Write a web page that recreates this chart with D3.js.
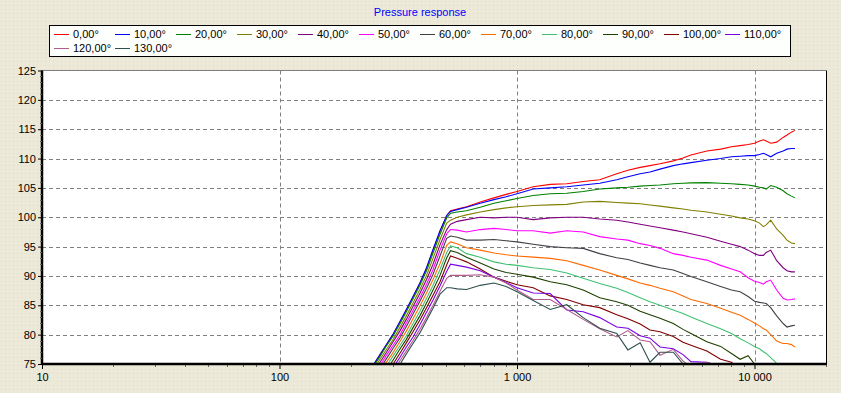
<!DOCTYPE html>
<html>
<head>
<meta charset="utf-8">
<script src="https://cdn.jsdelivr.net/npm/d3@7"></script>
<style>
  body { margin: 0; background: #ece9d8; }
  svg { display: block; }
  text { font-family: "Liberation Sans", Arial, sans-serif; font-size: 11px; }
</style>
</head>
<body>
<svg id="chart" width="841" height="393"></svg>
<script>
// frequencies (Hz) shared by every curve
const freqs = [240,250,265,280,300,321,342,365,390,416,443,474,506,525,560,613,700,800,900,1000,
  1170,1380,1620,1900,2230,2630,2930,3300,3630,4000,4550,5000,5400,6300,7200,8000,8700,9400,10000,10500,
  10900,11200,11700,12400,13200,13700,14300,14800];

// SPL (dB) per angle
const deg0 = [73.9,75.0,76.6,78.1,80.0,82.1,84.2,86.4,88.7,91.3,94.4,97.6,100.3,101.1,101.4,101.8,102.6,103.3,103.9,104.4,
  105.2,105.6,105.7,106.1,106.4,107.4,108.0,108.5,108.8,109.1,109.6,110.1,110.6,111.3,111.6,112.0,112.2,112.4,112.6,113.0,
  113.2,113.0,112.6,112.8,113.6,114.0,114.5,114.8];
const deg10 = [73.9,75.0,76.6,78.1,80.0,82.2,84.3,86.5,88.8,91.4,94.5,97.7,100.3,101.0,101.3,101.7,102.4,103.0,103.5,104.0,
  104.8,105.0,105.2,105.5,105.8,106.4,106.9,107.4,107.7,108.2,108.8,109.1,109.3,109.7,110.0,110.3,110.4,110.5,110.5,110.7,
  110.9,110.7,110.3,110.9,111.3,111.6,111.7,111.7];
const deg20 = [73.6,74.7,76.3,77.9,79.7,81.8,83.9,86.1,88.4,90.9,93.9,97.1,99.9,100.7,100.9,101.1,101.7,102.4,102.8,103.2,
  103.7,104.0,104.1,104.4,104.8,105.0,105.1,105.3,105.4,105.5,105.7,105.8,105.85,105.9,105.8,105.7,105.6,105.5,105.3,105.1,
  105.0,104.8,105.4,105.1,104.5,104.0,103.6,103.3];
const deg30 = [73.1,74.2,75.8,77.3,79.1,81.2,83.2,85.4,87.7,90.1,93.0,96.2,99.0,99.5,100.0,100.4,100.9,101.3,101.6,101.8,
  102.0,102.1,102.2,102.6,102.7,102.5,102.4,102.3,102.1,101.9,101.6,101.4,101.2,100.9,100.5,100.2,99.9,99.7,99.4,99.0,
  98.4,98.7,99.5,98.0,96.9,96.1,95.6,95.5];
const deg40 = [72.6,73.6,75.3,76.8,78.7,80.6,82.6,84.8,87.0,89.4,92.0,95.3,97.9,98.8,99.3,99.6,100.0,99.9,100.0,100.0,
  99.6,99.9,100.0,100.0,99.7,99.5,99.2,98.8,98.5,98.2,97.8,97.5,97.2,96.6,95.9,95.4,95.0,94.4,93.8,93.5,
  93.5,94.0,94.4,92.6,91.4,90.9,90.7,90.7];
const deg50 = [72.0,73.0,74.7,76.3,78.1,79.9,82.0,84.1,86.3,88.6,91.1,94.4,97.2,97.9,97.8,97.5,97.9,98.1,97.9,97.7,
  97.7,97.3,97.7,97.5,96.7,96.3,96.1,95.5,95.2,94.7,93.8,93.5,93.2,92.7,91.8,91.2,90.7,89.7,89.1,88.9,
  88.6,89.0,89.3,87.6,86.2,85.9,86.0,86.1];
const deg60 = [71.5,72.5,74.2,75.7,77.6,79.4,81.4,83.5,85.7,87.9,90.3,93.4,96.4,96.8,96.6,96.1,96.1,96.2,96.0,95.8,
  95.4,95.0,94.8,94.7,93.8,93.1,92.8,92.2,91.8,91.4,91.0,90.4,89.9,89.0,88.2,87.6,87.3,86.5,85.7,85.5,
  85.4,85.3,84.6,83.2,81.9,81.3,81.5,81.6];
const deg70 = [70.9,71.9,73.5,75.1,76.9,78.8,80.6,82.7,84.9,87.1,89.4,92.1,95.2,95.8,95.5,94.8,94.4,93.9,93.6,93.4,
  93.2,93.0,92.6,91.8,91.0,90.1,89.5,88.8,88.4,87.9,87.3,86.6,86.0,85.3,84.5,83.8,83.3,82.6,82.0,81.5,
  81.0,80.8,80.0,78.9,78.5,78.5,78.3,77.9];
const deg80 = [70.4,71.3,72.9,74.4,76.3,78.1,79.8,81.9,84.0,86.2,88.4,91.1,94.0,95.1,94.8,93.8,93.2,92.4,92.0,91.8,
  91.4,91.1,90.5,89.6,88.7,87.9,87.2,86.3,85.6,85.0,84.2,83.6,83.0,81.9,81.0,80.2,79.3,78.6,78.0,77.6,
  77.1,76.8,76.1,75.1,73.9,73.2,72.6,72.0];
const deg90 = [69.8,70.8,72.4,73.7,75.6,77.5,79.2,81.2,83.2,85.4,87.6,90.1,93.1,94.3,94.0,93.2,92.2,91.2,90.6,90.3,
  89.8,89.0,88.5,87.6,86.3,85.6,85.0,84.0,83.4,82.8,81.9,80.9,80.2,78.8,78.0,76.8,75.8,76.4,75.0,73.8,
  73.0,72.5,72.0,71.5,71.0,70.5,70.0,70.0];
const deg100 = [69.3,70.2,71.8,73.1,74.9,76.8,78.6,80.5,82.5,84.6,86.7,89.0,91.9,93.4,93.0,92.4,91.2,89.8,89.1,88.5,
  88.0,86.6,86.0,85.1,84.6,83.4,82.7,81.8,80.8,80.5,79.7,78.7,78.2,77.2,75.8,75.3,74.0,73.0,72.5,72.0,
  71.5,71.0,70.5,70.0,70.0,70.0,70.0,70.0];
const deg110 = [68.7,69.7,71.2,72.6,74.3,76.1,77.9,79.6,81.7,83.8,85.9,88.3,90.8,92.0,91.8,91.5,90.9,89.8,88.9,88.0,
  87.1,87.0,84.2,83.9,82.9,81.3,81.1,79.8,79.4,77.9,77.6,76.6,75.4,75.3,74.6,74.0,73.5,73.0,72.5,72.0,
  71.5,71.0,70.5,70.0,70.0,70.0,70.0,70.0];
const deg120 = [68.2,69.1,70.7,72.0,73.6,75.5,77.2,79.0,80.9,82.9,85.0,87.4,89.6,90.1,90.1,90.1,90.2,89.8,88.8,87.6,
  86.0,86.0,84.3,82.6,81.0,79.6,80.7,79.1,78.8,76.5,77.5,75.5,74.5,75.3,74.0,73.0,72.5,72.0,71.5,71.0,
  70.5,70.0,70.0,70.0,70.0,70.0,70.0,70.0];
const deg130 = [67.8,68.7,70.2,71.5,73.1,74.9,76.7,78.5,80.3,82.4,84.5,86.9,88.0,88.0,87.8,87.7,88.4,88.8,88.2,87.3,
  85.8,84.3,85.1,82.9,81.1,80.2,77.4,78.6,75.3,77.0,77.0,75.0,73.5,72.5,72.0,71.5,71.0,70.5,70.0,70.0,
  70.0,70.0,70.0,70.0,70.0,70.0,70.0,70.0];

const seriesNames = ["0,00°","10,00°","20,00°","30,00°","40,00°","50,00°","60,00°","70,00°","80,00°","90,00°","100,00°","110,00°","120,00°","130,00°"];
const seriesValues = [deg0,deg10,deg20,deg30,deg40,deg50,deg60,deg70,deg80,deg90,deg100,deg110,deg120,deg130];
const seriesColors = ["#ff0000","#0000ff","#008000","#808000","#800080","#ff00ff","#404048",
  "#ff6a00","#40c070","#1e4000","#800000","#7a00e6","#b05c8c","#2f4f4f"];

const yTicks = [75,80,85,90,95,100,105,110,115,120,125];
const xTicks = [10,100,1000,10000];

const svg = d3.select("#chart");
const plotLeft = 42, plotRight = 826, plotTop = 70.5, plotBottom = 364;

// dotted window background
const defs = svg.append("defs");
const pat = defs.append("pattern").attr("id", "dots")
  .attr("width", 4).attr("height", 4).attr("patternUnits", "userSpaceOnUse");
pat.append("rect").attr("width", 4).attr("height", 4).attr("fill", "#ece9d8");
pat.append("rect").attr("x", 1).attr("y", 1).attr("width", 1).attr("height", 1).attr("fill", "#e6d8d0");
svg.append("rect").attr("width", 841).attr("height", 393).attr("fill", "url(#dots)");

defs.append("clipPath").attr("id", "plotclip")
  .append("rect").attr("x", plotLeft).attr("y", plotTop)
  .attr("width", plotRight - plotLeft).attr("height", plotBottom - plotTop);

const x = d3.scaleLog().domain([10, 20000]).range([plotLeft, plotRight]);
const y = d3.scaleLinear().domain([75, 125]).range([plotBottom, plotTop]);

svg.append("rect").attr("x", plotLeft).attr("y", plotTop)
  .attr("width", plotRight - plotLeft).attr("height", plotBottom - plotTop)
  .attr("fill", "#ffffff");

// grid
svg.append("g").selectAll("line").data(yTicks.slice(1, -1)).join("line")
  .attr("x1", plotLeft).attr("x2", plotRight)
  .attr("y1", d => Math.round(y(d)) + 0.5).attr("y2", d => Math.round(y(d)) + 0.5)
  .attr("stroke", "#808080").attr("stroke-dasharray", "4,3");
svg.append("g").selectAll("line").data(xTicks.slice(1)).join("line")
  .attr("x1", d => Math.round(x(d)) + 0.5).attr("x2", d => Math.round(x(d)) + 0.5)
  .attr("y1", plotTop).attr("y2", plotBottom)
  .attr("stroke", "#808080").attr("stroke-dasharray", "4,3");

// curves
const line = d3.line().x(d => x(d[0])).y(d => y(d[1]));
svg.append("g").attr("clip-path", "url(#plotclip)")
  .selectAll("path").data(seriesValues).join("path")
  .attr("d", vals => line(freqs.map((f, i) => [f, vals[i]])))
  .attr("fill", "none")
  .attr("stroke", (d, i) => seriesColors[i])
  .attr("stroke-width", 1.1);

// frame
svg.append("line").attr("x1", plotLeft).attr("x2", plotRight).attr("y1", plotTop).attr("y2", plotTop)
  .attr("stroke", "#808080");
svg.append("line").attr("x1", plotRight + 0.5).attr("x2", plotRight + 0.5).attr("y1", plotTop).attr("y2", plotBottom)
  .attr("stroke", "#000");

// axes
const fmt = d3.formatLocale({decimal: ",", thousands: " ", grouping: [3], currency: ["", ""]}).format(",d");
const yAxis = d3.axisLeft(y).tickValues(yTicks).tickSize(4).tickPadding(2);
const gy = svg.append("g").attr("transform", `translate(${plotLeft},0)`).call(yAxis);
const xAxis = d3.axisBottom(x).tickValues(xTicks).tickFormat(fmt).tickSize(5).tickPadding(4);
const gx = svg.append("g").attr("transform", `translate(0,${plotBottom})`).call(xAxis);
[gx, gy].forEach(g => {
  g.select(".domain").attr("stroke", "#000").attr("stroke-width", 2.5);
  g.selectAll(".tick line").attr("stroke", "#000");
  g.selectAll(".tick text").attr("fill", "#000")
    .style("font-family", "'Liberation Sans', Arial, sans-serif").style("font-size", "11px");
});
gx.select(".domain").attr("d", `M${plotLeft},0H${plotRight + 1}`);
gy.select(".domain").attr("d", `M0,${plotTop}V${plotBottom}`);

// minor ticks
const yMinor = d3.range(76, 125).filter(v => v % 5 !== 0);
svg.append("g").selectAll("line").data(yMinor).join("line")
  .attr("x1", plotLeft - 2).attr("x2", plotLeft)
  .attr("y1", d => Math.round(y(d)) + 0.5).attr("y2", d => Math.round(y(d)) + 0.5)
  .attr("stroke", "#606060");
const xMinor = [];
[10, 100, 1000, 10000].forEach(dec => [2,3,4,5,6,7,8,9].forEach(m => { if (dec * m <= 20000) xMinor.push(dec * m); }));
svg.append("g").selectAll("line").data(xMinor).join("line")
  .attr("x1", d => Math.round(x(d)) + 0.5).attr("x2", d => Math.round(x(d)) + 0.5)
  .attr("y1", plotBottom + 1).attr("y2", plotBottom + 3)
  .attr("stroke", "#606060");

// title
svg.append("text").attr("x", 420).attr("y", 16).attr("text-anchor", "middle")
  .attr("fill", "#0000ff").text("Pressure response");

// legend
const lg = svg.append("g");
lg.append("rect").attr("x", 49.5).attr("y", 25.5).attr("width", 741).attr("height", 31)
  .attr("fill", "#fdfffd").attr("stroke", "#000");
const items = lg.selectAll("g.item").data(seriesNames).join("g")
  .attr("transform", (d, i) => `translate(${54 + (i % 12) * 61},${i < 12 ? 34 : 48})`);
items.append("line").attr("x1", 0).attr("x2", 15).attr("y1", 0.5).attr("y2", 0.5)
  .attr("stroke", (d, i) => seriesColors[i]);
items.append("text").attr("x", 19).attr("y", 4).attr("fill", "#000").text(d => d);
</script>
</body>
</html>
